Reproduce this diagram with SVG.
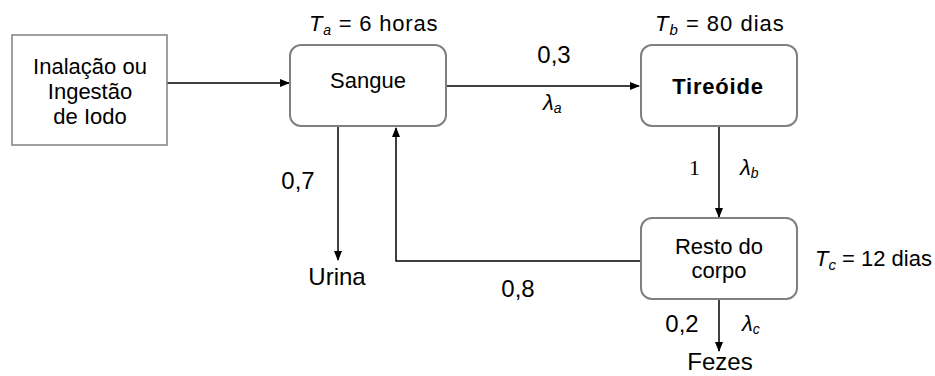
<svg xmlns="http://www.w3.org/2000/svg" width="935" height="376" viewBox="0 0 935 376">
<style>
text{font-family:"Liberation Sans",Arial,sans-serif;font-size:22px;fill:#000}
.c{text-anchor:middle}
.i{font-style:italic}
.n{font-size:24px}
.box{fill:#fff;stroke:#808080;stroke-width:2}
.ln{fill:none;stroke:#000;stroke-width:1.5}
</style>
<defs>
<marker id="ah" markerWidth="10" markerHeight="8" refX="9" refY="4" orient="auto" markerUnits="userSpaceOnUse">
<path d="M0,0 L10,4 L0,8 Z" fill="#000"/>
</marker>
</defs>
<g id="connectors">
<line class="ln" x1="167" y1="83" x2="289" y2="83" marker-end="url(#ah)"/>
<line class="ln" x1="447" y1="86" x2="639" y2="86" marker-end="url(#ah)"/>
<line class="ln" x1="719" y1="127" x2="719" y2="217" marker-end="url(#ah)"/>
<line class="ln" x1="338" y1="127" x2="338" y2="260" marker-end="url(#ah)"/>
<polyline class="ln" points="641,261 396,261 396,128" marker-end="url(#ah)"/>
<line class="ln" x1="719" y1="299" x2="719" y2="351" marker-end="url(#ah)"/>
</g>
<g id="input">
<rect x="12" y="35" width="155" height="110" fill="#fff" stroke="#808080" stroke-width="1.5"/>
<text class="c" x="90" y="74">Inalação ou</text>
<text class="c" x="90" y="99">Ingestão</text>
<text class="c" x="90" y="124">de Iodo</text>
</g>
<g id="sangue">
<rect class="box" x="290" y="45" width="156" height="81" rx="11"/>
<text class="c" x="368" y="88">Sangue</text>
<text x="309" y="31" font-size="21" letter-spacing="0.8"><tspan class="i">T</tspan><tspan class="i" font-size="14" dy="4">a</tspan><tspan dy="-4"> = 6 horas</tspan></text>
</g>
<g id="tireoide">
<rect class="box" x="641" y="45" width="156" height="81" rx="11"/>
<text class="c" x="718" y="94" font-weight="bold" font-size="24" letter-spacing="0.8">Tireóide</text>
<text x="655" y="31" font-size="23" letter-spacing="1"><tspan class="i">T</tspan><tspan class="i" font-size="15" dy="4">b</tspan><tspan dy="-4"> = 80 dias</tspan></text>
</g>
<g id="resto">
<rect class="box" x="641" y="218" width="156" height="81" rx="11"/>
<text class="c" x="719" y="254">Resto do</text>
<text class="c" x="719" y="278">corpo</text>
<text x="815" y="266"><tspan class="i">T</tspan><tspan class="i" font-size="15" dy="4">c</tspan><tspan dy="-4"> = 12 dias</tspan></text>
</g>
<g id="urina">
<text class="c n" x="337" y="285">Urina</text>
</g>
<g id="fezes">
<text class="c n" x="720" y="370">Fezes</text>
</g>
<g id="labels">
<text class="c n" x="554" y="63">0,3</text>
<text x="543" y="110" class="i" font-size="20">λ<tspan font-size="14" dy="3">a</tspan></text>
<text x="689" y="175" font-size="21" style="font-family:'Liberation Serif',serif">1</text>
<text x="740" y="175" class="i" font-size="20">λ<tspan font-size="14" dy="3">b</tspan></text>
<text class="c n" x="298" y="189">0,7</text>
<text class="c n" x="518" y="297">0,8</text>
<text class="c n" x="682" y="332">0,2</text>
<text x="742" y="331" class="i" font-size="20">λ<tspan font-size="14" dy="3">c</tspan></text>
</g>
</svg>
